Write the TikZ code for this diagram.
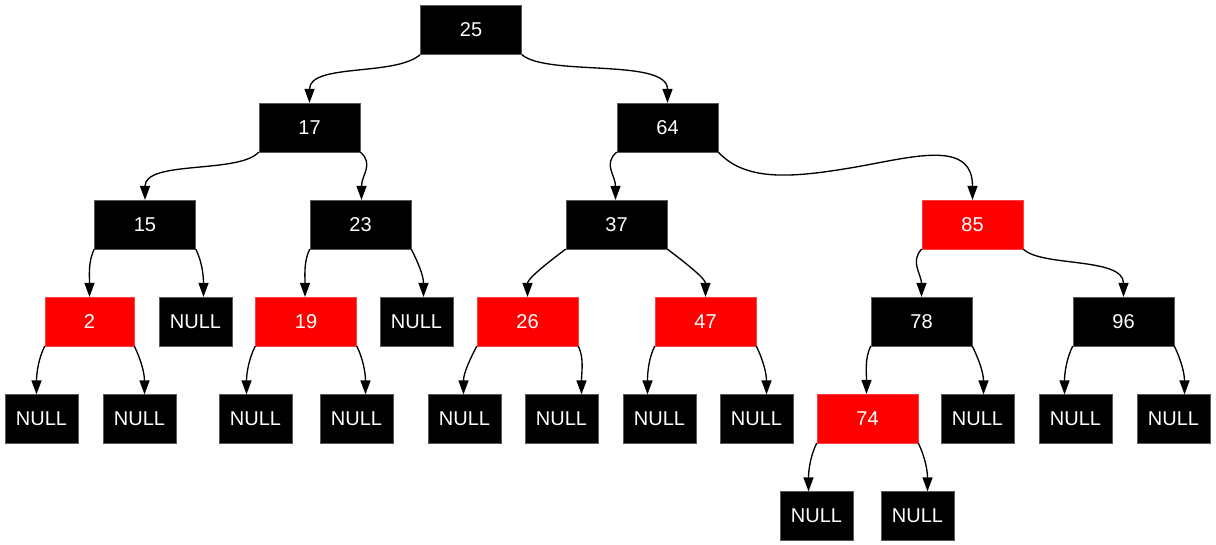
\documentclass[tikz,border=0pt]{standalone}
\usepackage{fontspec}
\setmainfont{Liberation Sans}
\usetikzlibrary{arrows.meta,calc}
\tikzset{
 key/.style={rectangle,inner sep=0pt,minimum height=36.5pt,text=white,
  font=\fontsize{15}{17}\selectfont},
 blk/.style={key,fill=black,draw=black!65,line width=.4pt,minimum width=75.75pt},
 rd/.style={key,fill=red,draw=red!75!white,line width=.4pt,minimum width=75.75pt},
 nil/.style={key,fill=black,draw=black!65,line width=.4pt,minimum width=54.75pt},
 link/.style={->,line width=1pt}
}
\begin{document}
\begin{tikzpicture}[>={Triangle[length=10.5pt,width=7.5pt]},x=.75pt,y=-.75pt]
 \useasboundingbox (0,0) rectangle (1216,545);
 % keys
 \node[blk] (n25) at (471,30) {25};
 \node[blk] (n17) at (309.5,127.5) {17};
 \node[blk] (n64) at (667.5,127.5) {64};
 \node[blk] (n15) at (145,224.5) {15};
 \node[blk] (n23) at (360.5,224.5) {23};
 \node[blk] (n37) at (616.5,224.5) {37};
 \node[rd] (n85) at (972.5,224.5) {85};
 \node[rd,minimum width=66.75pt] (n2) at (89.5,321.5) {2};
 \node[rd] (n19) at (306,321.5) {19};
 \node[rd] (n26) at (527.5,321.5) {26};
 \node[rd] (n47) at (705.5,321.5) {47};
 \node[blk] (n78) at (921.5,321.5) {78};
 \node[blk] (n96) at (1123.5,321.5) {96};
 \node[rd] (n74) at (867.5,418.5) {74};
 % leaves
 \node[nil] (z15) at (195.5,321.5) {NULL};
 \node[nil] (z23) at (416.5,321.5) {NULL};
 \node[nil] (z2a) at (41.5,419) {NULL};
 \node[nil] (z2b) at (139.5,419) {NULL};
 \node[nil] (z19a) at (255.5,419) {NULL};
 \node[nil] (z19b) at (356.5,419) {NULL};
 \node[nil] (z26a) at (464.5,419) {NULL};
 \node[nil] (z26b) at (561.5,419) {NULL};
 \node[nil] (z47a) at (659.5,419) {NULL};
 \node[nil] (z47b) at (756.5,419) {NULL};
 \node[nil] (z78) at (977.5,419) {NULL};
 \node[nil] (z96a) at (1075.5,419) {NULL};
 \node[nil] (z96b) at (1173.5,419) {NULL};
 \node[nil] (z74a) at (816.5,516) {NULL};
 \node[nil] (z74b) at (917.5,516) {NULL};
 % long links
 \draw[link] (n25.south west)..controls +(-25,22) and +(0,-40)..(n17.north);
 \draw[link] (n25.south east)..controls +(25,22) and +(0,-45)..(n64.north);
 \draw[link] (n17.south west)..controls +(-20,22) and +(0,-40)..(n15.north);
 \draw[link] (n17.south east)..controls +(14,12) and +(0,-25)..($(n23.north)+(1,0)$);
 \draw[link] (n64.south west)..controls +(-14,12) and +(0,-25)..($(n37.north)+(-1,0)$);
 \draw[link] (n64.south east)..controls +(27,29) and +(-60,10)..(850,168)
  ..controls +(60,-10) and +(0,-62)..(n85.north);
 \draw[link] (n37.south west)..controls +(-20,15) and +(0,-18)..(n26.north);
 \draw[link] (n37.south east)..controls +(20,15) and +(0,-18)..(n47.north);
 \draw[link] (n85.south west)..controls +(-12,12) and +(0,-22)..(n78.north);
 \draw[link] (n85.south east)..controls +(18,18) and +(0,-40)..(n96.north);
 % short links
 \draw[link] (n15.south west)..controls +(-6,12) and +(0,-22)..(n2.north);
 \draw[link] (n15.south east)..controls +(6,12) and +(0,-22)..($(z15.north)+(8,0)$);
 \draw[link] (n23.south west)..controls +(-6,12) and +(0,-22)..($(n19.north)+(-1,0)$);
 \draw[link] (n23.south east)..controls +(6,12) and +(0,-22)..($(z23.north)+(7,0)$);
 \draw[link] (n2.south west)..controls +(-6,12) and +(0,-22)..($(z2a.north)+(-5,0)$);
 \draw[link] (n2.south east)..controls +(6,12) and +(0,-22)..($(z2b.north)+(5,0)$);
 \draw[link] (n19.south west)..controls +(-6,12) and +(0,-22)..($(z19a.north)+(-9,0)$);
 \draw[link] (n19.south east)..controls +(6,12) and +(0,-22)..($(z19b.north)+(9,0)$);
 \draw[link] (n26.south west)..controls +(-6,12) and +(0,-22)..($(z26a.north)+(-1,0)$);
 \draw[link] (n26.south east)..controls +(6,12) and +(0,-22)..($(z26b.north)+(20,0)$);
 \draw[link] (n47.south west)..controls +(-6,12) and +(0,-22)..($(z47a.north)+(-12,0)$);
 \draw[link] (n47.south east)..controls +(6,12) and +(0,-22)..($(z47b.north)+(10,0)$);
 \draw[link] (n78.south west)..controls +(-6,12) and +(0,-22)..($(n74.north)+(-1,0)$);
 \draw[link] (n78.south east)..controls +(6,12) and +(0,-22)..($(z78.north)+(6,0)$);
 \draw[link] (n96.south west)..controls +(-6,12) and +(0,-22)..($(z96a.north)+(-11,0)$);
 \draw[link] (n96.south east)..controls +(6,12) and +(0,-22)..($(z96b.north)+(11,0)$);
 \draw[link] (n74.south west)..controls +(-6,12) and +(0,-22)..($(z74a.north)+(-8,0)$);
 \draw[link] (n74.south east)..controls +(6,12) and +(0,-22)..($(z74b.north)+(10,0)$);
\end{tikzpicture}
\end{document}
